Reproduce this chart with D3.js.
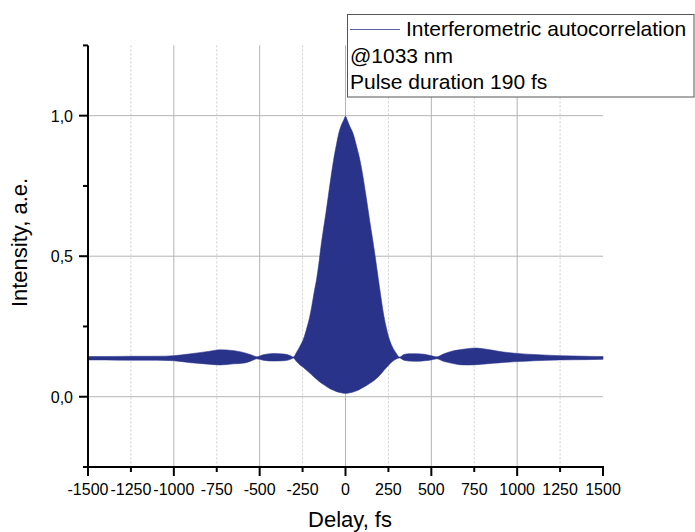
<!DOCTYPE html>
<html>
<head>
<meta charset="utf-8">
<script src="https://cdn.jsdelivr.net/npm/d3@7"></script>
<style>
  html, body { margin: 0; padding: 0; background: #fff; }
  svg { display: block; font-family: "Liberation Sans", Arial, sans-serif; }
</style>
</head>
<body>
<svg id="chart" width="695" height="532"></svg>
<script>
// ---- data (envelope of the fringe pattern) ----
const delays = [-1500,-1400,-1250,-1100,-1000,-900,-800,-730,-650,-580,-540,-517,-480,-420,-360,-320,-304,-285,-265,-245,-225,-210,-197,-183,-168,-155,-144,-130,-115,-100,-85,-70,-55,-40,-25,-10,0,10,25,45,65,84,100,120,140,158,175,191,205,220,236,255,275,295,315,340,370,415,460,500,531,570,620,664,710,761,800,860,920,1000,1100,1250,1400,1500];
const upperEnvelope = [.143,.143,.144,.144,.146,.153,.161,.167,.164,.155,.147,.142,.149,.154,.152,.146,.141,.158,.180,.205,.245,.280,.320,.370,.420,.475,.530,.590,.650,.715,.780,.840,.890,.935,.965,.985,.998,.985,.962,.935,.890,.842,.790,.712,.630,.560,.490,.420,.360,.300,.250,.205,.175,.155,.141,.150,.153,.153,.151,.146,.142,.152,.162,.167,.171,.173,.171,.165,.159,.154,.150,.146,.144,.143];
const lowerEnvelope = [.131,.131,.130,.130,.128,.121,.116,.113,.117,.121,.130,.135,.130,.127,.128,.133,.138,.125,.113,.104,.093,.085,.078,.070,.062,.055,.050,.044,.038,.032,.027,.023,.019,.016,.014,.012,.012,.012,.014,.017,.021,.027,.032,.039,.047,.054,.062,.071,.080,.091,.102,.115,.126,.134,.138,.130,.127,.126,.128,.131,.135,.126,.119,.114,.113,.114,.116,.119,.122,.125,.128,.131,.132,.133];

const xMajorTicks = [-1500,-1000,-500,0,500,1000,1500];
const xMinorTicks = [-1250,-750,-250,250,750,1250];
const xTickLabels = ["-1500","-1250","-1000","-750","-500","-250","0","250","500","750","1000","1250","1500"];
const xLabelValues = [-1500,-1250,-1000,-750,-500,-250,0,250,500,750,1000,1250,1500];
const yMajorTicks = [0, 0.5, 1.0];
const yMinorTicks = [-0.25, 0.25, 0.75, 1.25];
const yTickLabels = ["0,0","0,5","1,0"];
const legendLines = ["Interferometric autocorrelation", "@1033 nm", "Pulse duration 190 fs"];

const svg = d3.select("#chart");
const x = d3.scaleLinear().domain([-1500, 1500]).range([88, 603]);
const y = d3.scaleLinear().domain([-0.25, 1.25]).range([467, 45.4]);
const color = "#2a338a";

// grid
const grid = svg.append("g");
grid.selectAll("line.vmin").data(xMinorTicks).join("line")
  .attr("x1", d => x(d)).attr("x2", d => x(d)).attr("y1", y(1.25)).attr("y2", y(-0.25))
  .attr("stroke", "#cfcfcf").attr("stroke-width", 1).attr("stroke-dasharray", "2,2");
grid.selectAll("line.vmaj").data(xMajorTicks.filter(d => d > -1500 && d < 1500)).join("line")
  .attr("x1", d => x(d)).attr("x2", d => x(d)).attr("y1", y(1.25)).attr("y2", y(-0.25))
  .attr("stroke", "#b4b4b4").attr("stroke-width", 1);
grid.selectAll("line.hmaj").data(yMajorTicks).join("line")
  .attr("x1", x(-1500)).attr("x2", x(1500)).attr("y1", d => y(d)).attr("y2", d => y(d))
  .attr("stroke", "#b4b4b4").attr("stroke-width", 1);

// data
const pts = delays.map((d, i) => ({d, u: upperEnvelope[i], l: lowerEnvelope[i]}));
const area = d3.area().x(p => x(p.d)).y0(p => y(p.l)).y1(p => y(p.u)).curve(d3.curveMonotoneX);
svg.append("path").datum(pts).attr("d", area)
  .attr("fill", color).attr("stroke", color).attr("stroke-width", 0.8).attr("stroke-opacity", 0.7);

// axes
const axisG = svg.append("g").attr("stroke", "#000").attr("stroke-width", 2);
axisG.append("line").attr("x1", x(-1500)).attr("x2", x(-1500)).attr("y1", y(1.25)).attr("y2", y(-0.25) + 9);
axisG.append("line").attr("x1", x(-1500) - 5).attr("x2", x(1500) + 1).attr("y1", y(-0.25)).attr("y2", y(-0.25));
axisG.selectAll("line.xt").data(xMajorTicks).join("line")
  .attr("x1", d => x(d)).attr("x2", d => x(d)).attr("y1", y(-0.25)).attr("y2", y(-0.25) + 9);
axisG.selectAll("line.xm").data(xMinorTicks).join("line")
  .attr("x1", d => x(d)).attr("x2", d => x(d)).attr("y1", y(-0.25)).attr("y2", y(-0.25) + 5);
axisG.selectAll("line.yt").data(yMajorTicks).join("line")
  .attr("x1", x(-1500) - 9).attr("x2", x(-1500)).attr("y1", d => y(d)).attr("y2", d => y(d));
axisG.selectAll("line.ym").data(yMinorTicks).join("line")
  .attr("x1", x(-1500) - 5).attr("x2", x(-1500)).attr("y1", d => y(d)).attr("y2", d => y(d));

// tick labels
svg.selectAll("text.xl").data(xLabelValues).join("text")
  .attr("x", d => x(d)).attr("y", 495).attr("text-anchor", "middle")
  .attr("font-size", 16).attr("fill", "#000").text((d, i) => xTickLabels[i]);
svg.selectAll("text.yl").data(yMajorTicks).join("text")
  .attr("x", 73).attr("y", d => y(d) + 6).attr("text-anchor", "end")
  .attr("font-size", 16).attr("fill", "#000").text((d, i) => yTickLabels[i]);

// axis titles
svg.append("text").attr("x", 350).attr("y", 526.5).attr("text-anchor", "middle")
  .attr("font-size", 22).attr("fill", "#000").text("Delay, fs");
svg.append("text").attr("transform", "translate(27,242.5) rotate(-90)").attr("text-anchor", "middle")
  .attr("font-size", 22).attr("fill", "#000").text("Intensity, a.e.");

// legend
const lg = svg.append("g");
lg.append("rect").attr("x", 347.5).attr("y", 14.5).attr("width", 346.5).attr("height", 82.5)
  .attr("fill", "#fff").attr("stroke", "#555").attr("stroke-width", 1);
lg.append("line").attr("x1", 350).attr("x2", 400).attr("y1", 29.5).attr("y2", 29.5)
  .attr("stroke", "#5a5fa8").attr("stroke-width", 1.2);
lg.append("text").attr("x", 406).attr("y", 36).attr("font-size", 21).attr("fill", "#000").text(legendLines[0]);
lg.append("text").attr("x", 350).attr("y", 63).attr("font-size", 21).attr("fill", "#000").text(legendLines[1]);
lg.append("text").attr("x", 350).attr("y", 88.5).attr("font-size", 21).attr("fill", "#000").text(legendLines[2]);
</script>
</body>
</html>
